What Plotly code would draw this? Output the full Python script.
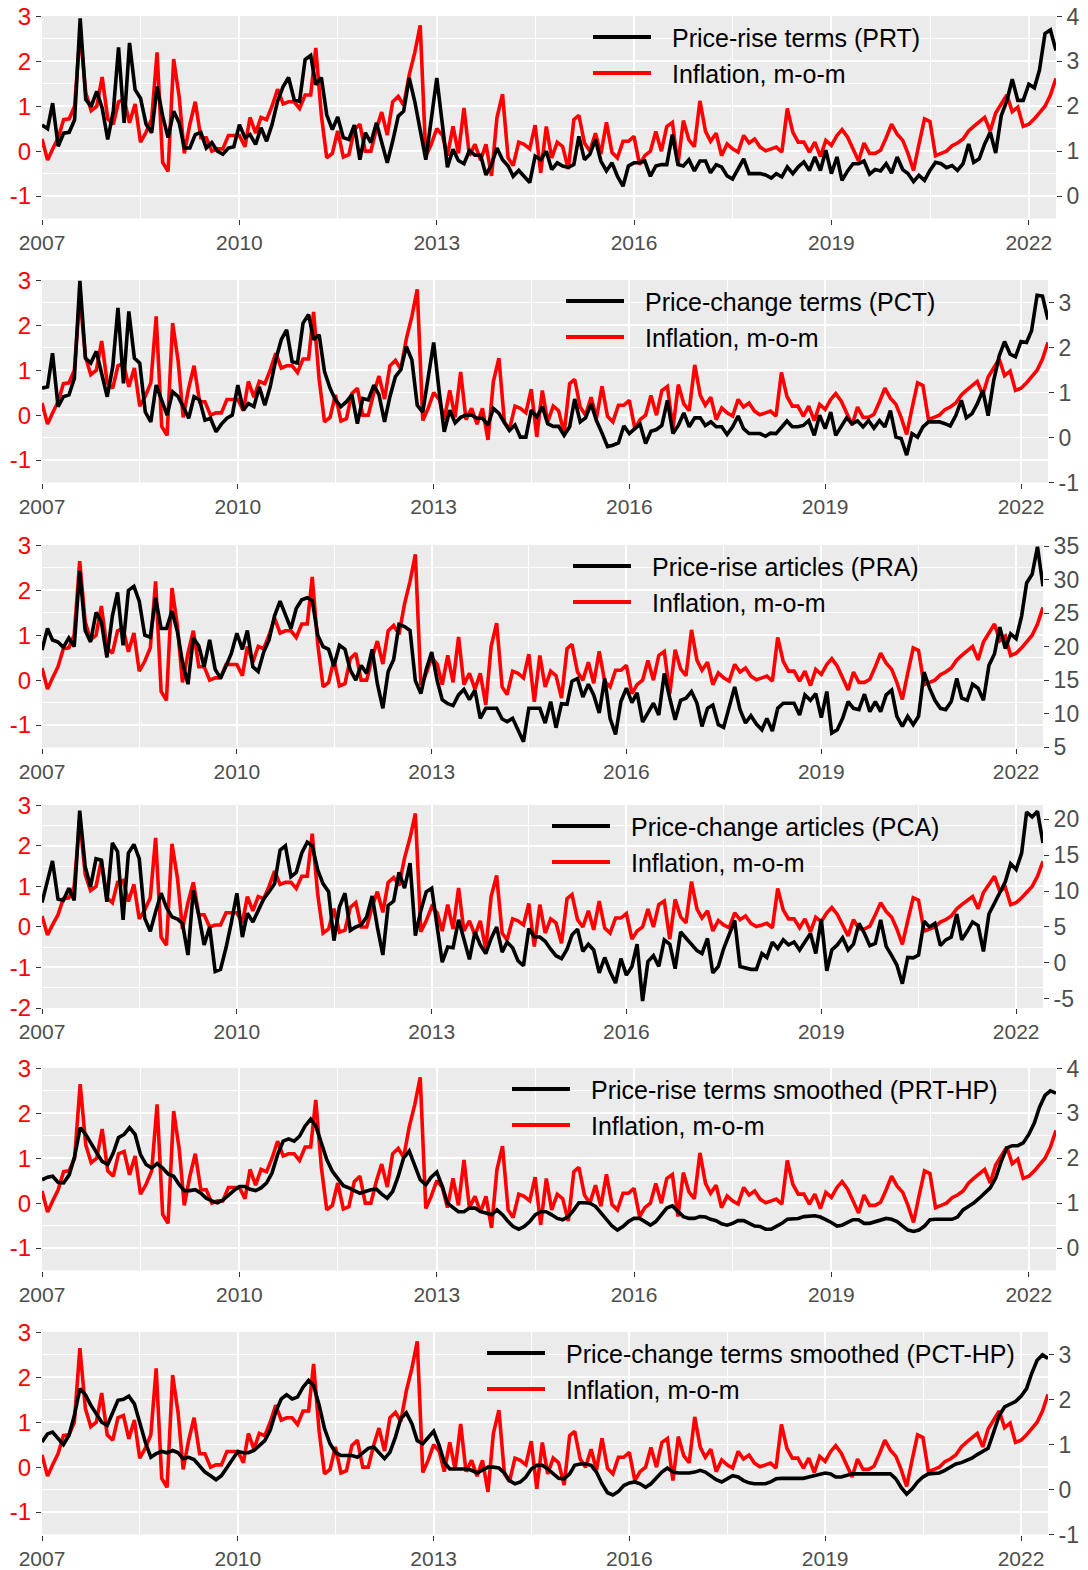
import pandas as pd
import plotly.graph_objects as go

# ---------------- data (monthly, Jan 2007 - Jun 2022) ----------------
dates = pd.date_range("2007-01-01", periods=186, freq="MS")

inflation = [
    0.27, -0.2, 0.05, 0.3, 0.7, 0.72, 1.0, 2.65, 1.3, 0.9,
    1.0, 1.65, 0.72, 0.6, 1.1, 1.15, 0.63, 1.05, 0.2, 0.42,
    0.72, 2.2, -0.25, -0.45, 2.05, 1.2, -0.05, 0.6, 1.1, 0.3,
    0.3, 0.0, 0.05, 0.05, 0.35, 0.35, 0.35, 0.1, 0.75, 0.4,
    0.75, 0.7, 1.0, 1.38, 1.05, 1.1, 1.1, 0.95, 1.25, 1.25,
    2.3, 0.8, -0.15, -0.05, 0.45, -0.13, -0.08, 0.48, 0.6, 0.0,
    0.0, 0.5, 0.87, 0.36, 1.1, 1.22, 1.02, 1.7, 2.2, 2.8,
    -0.12, 0.15, 0.5, 0.35, -0.1, 0.55, -0.05, 0.96, -0.1, 0.15,
    -0.2, 0.15, -0.55, 0.75, 1.27, -0.15, -0.32, 0.2, 0.15, 0.05,
    0.58, -0.48, 0.55, -0.15, 0.2, 0.1, -0.4, 0.7, 0.8, 0.18,
    0.0, 0.4, -0.07, 0.64, -0.03, -0.15, 0.22, 0.22, 0.33, -0.3,
    -0.1, 0.0, 0.44, 0.0, 0.55, 0.64, -0.3, 0.68, 0.25, 0.1,
    1.12, 0.44, 0.22, 0.4, -0.1, 0.16, 0.05, -0.02, 0.35, 0.18,
    0.27, 0.09, 0.01, 0.05, 0.09, -0.02, 0.95, 0.42, 0.2, 0.2,
    -0.02, 0.2, -0.12, 0.24, 0.13, 0.35, 0.48, 0.31, 0.05, -0.22,
    0.18, -0.05, -0.05, 0.02, 0.3, 0.6, 0.38, 0.24, -0.05, -0.43,
    0.15, 0.72, 0.66, -0.1, -0.05, 0.0, 0.12, 0.18, 0.27, 0.45,
    0.55, 0.65, 0.75, 0.45, 0.85, 1.05, 1.25, 0.88, 0.98, 0.55,
    0.6, 0.72, 0.85, 1.0, 1.25, 1.62,
]

prt = [
    1.58, 1.5, 2.07, 1.11, 1.4, 1.42, 1.7, 3.96, 2.15, 2.0,
    2.33, 1.96, 1.26, 1.89, 3.31, 1.63, 3.41, 2.37, 2.18, 1.6,
    1.41, 2.44, 1.78, 1.3, 1.89, 1.63, 1.07, 1.07, 1.37, 1.42,
    1.07, 1.19, 1.0, 0.93, 1.07, 1.1, 1.59, 1.3, 1.37, 1.15,
    1.52, 1.22, 1.59, 2.11, 2.44, 2.64, 2.15, 2.11, 3.04, 3.13,
    2.48, 2.64, 1.81, 1.48, 1.76, 1.3, 1.26, 1.58, 0.81, 1.41,
    1.19, 1.63, 1.2, 0.74, 1.22, 1.78, 1.89, 2.63, 2.1, 1.5,
    0.81, 1.7, 2.63, 1.6, 0.64, 1.04, 0.79, 0.72, 1.01, 0.91,
    0.91, 0.47, 0.7, 1.07, 0.81, 0.67, 0.44, 0.57, 0.44, 0.3,
    0.89, 0.81, 1.0, 0.59, 0.74, 0.67, 0.64, 0.7, 1.33, 0.81,
    0.93, 1.26, 0.78, 0.56, 0.74, 0.44, 0.22, 0.67, 0.74, 0.74,
    0.78, 0.44, 0.67, 0.7, 0.7, 1.37, 0.7, 0.67, 0.81, 0.56,
    0.78, 0.78, 0.52, 0.7, 0.65, 0.45, 0.38, 0.61, 0.83, 0.5,
    0.5, 0.5, 0.47, 0.4, 0.5, 0.43, 0.65, 0.5, 0.65, 0.76,
    0.57, 0.87, 0.57, 1.02, 0.5, 0.87, 0.35, 0.56, 0.72, 0.72,
    0.78, 0.49, 0.59, 0.56, 0.72, 0.51, 0.87, 0.59, 0.5, 0.32,
    0.46, 0.35, 0.57, 0.75, 0.72, 0.63, 0.68, 0.57, 0.72, 1.16,
    0.75, 0.83, 1.16, 1.42, 0.96, 1.79, 2.12, 2.6, 2.13, 2.13,
    2.49, 2.41, 2.8, 3.62, 3.7, 3.24,
]

pct = [
    1.1, 1.13, 1.88, 0.69, 0.91, 0.95, 1.32, 3.49, 1.77, 1.66,
    1.92, 1.43, 0.91, 1.58, 2.89, 1.21, 2.81, 1.77, 1.66, 0.57,
    0.35, 1.17, 0.84, 0.5, 1.02, 0.91, 0.69, 0.43, 0.91, 0.84,
    0.39, 0.43, 0.13, 0.3, 0.43, 0.5, 1.17, 0.61, 0.76, 0.69,
    1.13, 0.72, 1.13, 1.73, 2.18, 2.4, 1.69, 1.66, 2.55, 2.74,
    2.18, 2.29, 1.47, 1.1, 0.84, 0.69, 0.8, 0.95, 0.31, 0.87,
    0.84, 1.17, 0.95, 0.35, 0.91, 1.36, 1.51, 2.03, 1.73, 0.72,
    0.57, 1.3, 2.12, 1.02, 0.13, 0.61, 0.33, 0.45, 0.5, 0.5,
    0.43, 0.43, 0.28, 0.65, 0.54, 0.33, 0.16, 0.28, 0.01, 0.01,
    0.61, 0.46, 0.69, 0.31, 0.25, 0.25, 0.05, 0.24, 0.86, 0.35,
    0.44, 0.75, 0.38, 0.1, -0.2, -0.17, -0.12, 0.26, 0.09, 0.2,
    0.3, -0.13, 0.14, 0.18, 0.27, 0.83, 0.09, 0.27, 0.55, 0.24,
    0.44, 0.44, 0.27, 0.35, 0.24, 0.24, 0.07, 0.24, 0.48, 0.2,
    0.09, 0.09, 0.09, 0.03, 0.1, 0.09, 0.24, 0.37, 0.24, 0.24,
    0.27, 0.38, 0.05, 0.5, 0.2, 0.57, 0.05, 0.26, 0.44, 0.31,
    0.37, 0.24, 0.38, 0.21, 0.38, 0.24, 0.6, 0.01, -0.02, -0.39,
    0.09, 0.01, 0.24, 0.35, 0.35, 0.35, 0.31, 0.26, 0.49, 0.83,
    0.44, 0.53, 0.75, 1.05, 0.49, 1.27, 1.82, 2.14, 1.86, 1.8,
    2.14, 2.12, 2.38, 3.17, 3.15, 2.63,
]

pra = [
    19.5, 22.7, 21.0, 20.7, 19.9, 21.3, 20.0, 31.3, 22.4, 20.7,
    25.1, 23.7, 18.4, 24.6, 28.1, 20.2, 28.4, 29.0, 26.8, 21.7,
    21.4, 27.3, 22.7, 22.7, 25.3, 22.2, 17.7, 14.4, 21.3, 20.1,
    17.0, 21.0, 16.6, 15.3, 17.1, 19.0, 22.0, 19.6, 22.4, 17.0,
    16.3, 19.2, 21.0, 24.6, 26.8, 24.8, 22.7, 25.7, 27.0, 27.3,
    26.9, 21.7, 20.0, 19.6, 17.1, 20.2, 19.6, 16.5, 15.0, 17.2,
    16.0, 19.6, 14.5, 10.8, 16.3, 18.1, 23.3, 23.0, 22.4, 14.9,
    13.0, 16.6, 19.2, 14.9, 12.1, 11.5, 11.2, 12.8, 13.6, 12.1,
    13.5, 9.3, 10.8, 10.8, 10.8, 9.2, 8.8, 9.3, 7.6, 5.8,
    10.8, 10.8, 10.8, 8.6, 11.8, 7.9, 11.5, 11.4, 14.85, 15.25,
    12.5, 14.4, 12.8, 10.1, 15.25, 9.3, 6.9, 11.8, 13.8, 11.65,
    13.1, 8.75, 10.1, 11.55, 9.8, 16.0, 12.3, 9.1, 12.0, 12.3,
    13.3, 11.55, 8.1, 10.8, 11.3, 8.35, 7.95, 10.9, 14.0, 10.6,
    8.6, 9.7, 8.45, 7.6, 9.3, 7.4, 10.8, 11.55, 11.55, 11.55,
    9.8, 12.8, 12.0, 13.0, 9.4, 13.3, 7.1, 7.6, 9.3, 11.8,
    10.8, 10.6, 12.9, 10.3, 11.8, 10.3, 12.8, 13.5, 9.6, 8.1,
    9.6, 8.35, 9.6, 16.2, 13.8, 12.0, 10.8, 10.6, 11.8, 15.25,
    12.3, 12.0, 14.4, 13.8, 12.0, 17.2, 18.9, 22.9, 19.7, 21.9,
    21.2, 24.6, 29.5, 30.8, 34.9, 29.0,
]

pca = [
    8.4, 11.2, 14.2, 8.9, 8.7, 10.4, 8.7, 21.2, 13.4, 10.6,
    14.5, 14.3, 8.5, 16.7, 15.5, 6.0, 15.3, 16.5, 14.5, 6.2,
    4.4, 7.1, 9.7, 7.7, 6.4, 6.1, 5.5, 1.1, 10.1, 6.6,
    2.5, 5.0, -1.2, -0.9, 2.1, 5.6, 9.7, 3.6, 6.9, 5.7,
    7.3, 8.9, 9.9, 11.0, 15.7, 16.3, 12.0, 12.6, 15.3, 16.8,
    16.3, 12.9, 11.0, 9.9, 3.1, 7.8, 9.7, 4.5, 5.0, 5.3,
    6.4, 9.3, 5.0, 1.1, 8.0, 8.6, 12.6, 10.4, 13.9, 3.8,
    7.3, 9.9, 10.4, 5.0, 0.1, 2.2, 2.1, 6.0, 3.1, 0.5,
    4.3, 2.5, 1.3, 3.4, 5.0, 1.5, 2.9, 2.1, 0.3, -0.4,
    4.8, 3.6, 3.6, 3.0, 1.9, 1.0, 0.6, 1.9, 3.9, 4.7,
    1.6, 2.6, 1.8, -1.4, 0.75, -1.2, -2.8, 0.6, -1.7, -0.5,
    2.6, -5.3, 0.2, 1.0, -0.5, 3.2, 2.6, -0.8, 4.3, 3.4,
    2.5, 1.7, 1.3, 3.4, -1.4, -0.5, 2.0, 4.0, 5.9, -0.5,
    -0.7, -0.9, -0.9, 1.3, 0.75, 2.9, 2.0, 3.2, 2.5, 2.9,
    1.8, 2.9, 4.1, 1.3, 6.1, -1.1, 1.8, 2.5, 3.5, 1.8,
    2.6, 5.5, 4.1, 2.4, 2.7, 6.0, 2.3, 1.0, -0.3, -2.9,
    0.75, 0.7, 1.1, 5.8, 5.0, 5.5, 2.4, 3.2, 3.6, 6.8,
    3.2, 4.4, 5.7, 5.2, 1.6, 6.8, 8.4, 9.8, 11.3, 13.8,
    13.0, 15.3, 21.0, 20.3, 21.1, 16.7,
]

prt_hp = [
    1.52, 1.58, 1.6, 1.46, 1.45, 1.63, 2.04, 2.68, 2.53, 2.31,
    2.12, 1.93, 1.86, 2.12, 2.46, 2.53, 2.68, 2.53, 2.08, 1.86,
    1.78, 1.88, 1.78, 1.65, 1.6, 1.41, 1.28, 1.28, 1.3, 1.22,
    1.11, 1.05, 1.01, 1.07, 1.19, 1.28, 1.37, 1.37, 1.31, 1.28,
    1.34, 1.45, 1.67, 2.08, 2.38, 2.43, 2.38, 2.49, 2.72, 2.87,
    2.72, 2.34, 1.97, 1.71, 1.56, 1.39, 1.34, 1.28, 1.22, 1.26,
    1.3, 1.31, 1.2, 1.11, 1.26, 1.6, 2.01, 2.16, 1.86, 1.52,
    1.41, 1.58, 1.69, 1.37, 1.0, 0.89, 0.81, 0.81, 0.89, 0.89,
    0.81, 0.78, 0.74, 0.85, 0.74, 0.59, 0.48, 0.42, 0.48, 0.59,
    0.74, 0.81, 0.81, 0.74, 0.66, 0.63, 0.7, 0.85, 1.01, 1.01,
    1.0, 0.93, 0.78, 0.63, 0.49, 0.4, 0.48, 0.59, 0.66, 0.66,
    0.59, 0.51, 0.59, 0.74, 0.89, 0.94, 0.81, 0.7, 0.66, 0.66,
    0.7, 0.69, 0.64, 0.61, 0.54, 0.51, 0.55, 0.61, 0.61, 0.55,
    0.49, 0.48, 0.42, 0.42, 0.48, 0.55, 0.64, 0.64, 0.66, 0.7,
    0.72, 0.72, 0.69, 0.64, 0.57, 0.49, 0.51, 0.57, 0.63, 0.63,
    0.55, 0.55, 0.59, 0.63, 0.66, 0.64, 0.59, 0.49, 0.4, 0.37,
    0.4, 0.49, 0.63, 0.64, 0.64, 0.64, 0.64, 0.69, 0.85, 0.93,
    1.0, 1.11, 1.22, 1.34, 1.56, 1.93, 2.23, 2.28, 2.28, 2.34,
    2.53, 2.79, 3.13, 3.4, 3.5, 3.45,
]

pct_hp = [
    1.06, 1.24, 1.28, 1.13, 1.0, 1.21, 1.65, 2.25, 2.11, 1.88,
    1.67, 1.5, 1.43, 1.73, 1.99, 2.01, 2.08, 1.91, 1.5, 1.06,
    0.72, 0.8, 0.85, 0.82, 0.87, 0.82, 0.69, 0.72, 0.67, 0.52,
    0.39, 0.31, 0.22, 0.31, 0.5, 0.69, 0.85, 0.82, 0.82, 0.87,
    0.98, 1.09, 1.32, 1.73, 2.02, 2.11, 2.02, 2.06, 2.28, 2.43,
    2.32, 1.88, 1.36, 1.02, 0.83, 0.76, 0.76, 0.76, 0.72, 0.82,
    0.92, 0.95, 0.83, 0.69, 0.83, 1.17, 1.58, 1.71, 1.47, 1.09,
    1.02, 1.17, 1.3, 0.98, 0.61, 0.46, 0.45, 0.46, 0.46, 0.43,
    0.37, 0.43, 0.5, 0.5, 0.48, 0.37, 0.2, 0.13, 0.17, 0.28,
    0.46, 0.54, 0.54, 0.46, 0.35, 0.25, 0.24, 0.35, 0.54, 0.57,
    0.57, 0.54, 0.39, 0.13, -0.07, -0.12, -0.04, 0.09, 0.15, 0.17,
    0.13, 0.05, 0.13, 0.25, 0.39, 0.48, 0.39, 0.37, 0.37, 0.37,
    0.39, 0.43, 0.39, 0.31, 0.22, 0.17, 0.24, 0.31, 0.28, 0.2,
    0.15, 0.13, 0.13, 0.13, 0.17, 0.24, 0.25, 0.25, 0.25, 0.25,
    0.25, 0.28, 0.31, 0.35, 0.37, 0.35, 0.28, 0.28, 0.31, 0.35,
    0.35, 0.35, 0.35, 0.35, 0.35, 0.37, 0.35, 0.24, 0.05, -0.1,
    0.01, 0.17, 0.28, 0.35, 0.37, 0.37, 0.43, 0.5, 0.57, 0.6,
    0.65, 0.7, 0.78, 0.85, 0.92, 1.28, 1.65, 1.84, 1.91, 1.96,
    2.08, 2.25, 2.58, 2.88, 3.0, 2.92,
]

year_ticks = ["2007", "2010", "2013", "2016", "2019", "2022"]
inflation_name = "Inflation, m-o-m"

# ---------------- layout config ----------------
W, H = 1088, 1570
FONT = "Liberation Sans, Arial, Helvetica, sans-serif"

panels = [
    dict(name="Price-rise terms (PRT)", y=prt,
         lrange=[-1.5, 3.01], lticks=[-1, 0, 1, 2, 3], lminor=[-1.5, -0.5, 0.5, 1.5, 2.5],
         rrange=[-0.5, 4.01], rticks=[0, 1, 2, 3, 4],
         box=(42, 1056, 16, 218.5), legx=593),
    dict(name="Price-change terms (PCT)", y=pct,
         lrange=[-1.5, 3.01], lticks=[-1, 0, 1, 2, 3], lminor=[-1.5, -0.5, 0.5, 1.5, 2.5],
         rrange=[-1.0, 3.51], rticks=[-1, 0, 1, 2, 3],
         box=(42, 1048, 280, 482.5), legx=566),
    dict(name="Price-rise articles (PRA)", y=pra,
         lrange=[-1.5, 3.01], lticks=[-1, 0, 1, 2, 3], lminor=[-1.5, -0.5, 0.5, 1.5, 2.5],
         rrange=[4.95, 35.17], rticks=[5, 10, 15, 20, 25, 30, 35],
         box=(42, 1043, 545, 747.5), legx=573),
    dict(name="Price-change articles (PCA)", y=pca,
         lrange=[-2.0, 3.01], lticks=[-2, -1, 0, 1, 2, 3], lminor=[-1.5, -0.5, 0.5, 1.5, 2.5],
         rrange=[-6.28, 21.98], rticks=[-5, 0, 5, 10, 15, 20],
         box=(42, 1043, 805, 1008), legx=552),
    dict(name="Price-rise terms smoothed (PRT-HP)", y=prt_hp,
         lrange=[-1.5, 3.01], lticks=[-1, 0, 1, 2, 3], lminor=[-1.5, -0.5, 0.5, 1.5, 2.5],
         rrange=[-0.5, 4.01], rticks=[0, 1, 2, 3, 4],
         box=(42, 1056, 1068, 1270.5), legx=512),
    dict(name="Price-change terms smoothed (PCT-HP)", y=pct_hp,
         lrange=[-1.5, 3.01], lticks=[-1, 0, 1, 2, 3], lminor=[-1.5, -0.5, 0.5, 1.5, 2.5],
         rrange=[-1.0, 3.51], rticks=[-1, 0, 1, 2, 3],
         box=(42, 1048, 1332, 1534.5), legx=487),
]

major_dates = [f"{y}-01-01" for y in year_ticks]
minor_dates = ["2008-07-02", "2011-07-02", "2014-07-02", "2017-07-02", "2020-07-02"]

LINE_W = 3.6
fig = go.Figure()
layout = dict(
    width=W, height=H,
    margin=dict(l=0, r=0, t=0, b=0, autoexpand=False),
    paper_bgcolor="white",
    plot_bgcolor="#EBEBEB",
    showlegend=False,
    font=dict(family=FONT),
)
shapes = []
annotations = []

for i, p in enumerate(panels):
    k = i + 1
    xa = "x" if k == 1 else f"x{k}"
    yl_n = 2 * i + 1
    yr_n = 2 * i + 2
    yl = "y" if yl_n == 1 else f"y{yl_n}"
    yr = f"y{yr_n}"
    x0, x1, top, bot = p["box"]

    fig.add_trace(go.Scatter(x=dates, y=inflation, mode="lines", name=inflation_name,
                             line=dict(color="#FF0000", width=LINE_W), xaxis=xa, yaxis=yl,
                             hoverinfo="skip"))
    fig.add_trace(go.Scatter(x=dates, y=p["y"], mode="lines", name=p["name"],
                             line=dict(color="#000000", width=LINE_W), xaxis=xa, yaxis=yr,
                             hoverinfo="skip"))

    xkey = "xaxis" if k == 1 else f"xaxis{k}"
    layout[xkey] = dict(
        domain=[x0 / W, x1 / W], anchor=yl, type="date", automargin=False,
        range=[dates[0], dates[-1]],
        tickmode="array", tickvals=major_dates, ticktext=year_ticks,
        ticks="outside", ticklen=5, tickwidth=1.1, tickcolor="#333333",
        tickfont=dict(size=21, color="#4D4D4D", family=FONT),
        showgrid=True, gridcolor="white", gridwidth=2.1,
        minor=dict(tickmode="array", tickvals=minor_dates, showgrid=True,
                   gridcolor="white", gridwidth=1.2, ticks=""),
        showline=False, zeroline=False, fixedrange=True,
    )
    ylkey = "yaxis" if yl_n == 1 else f"yaxis{yl_n}"
    layout[ylkey] = dict(
        domain=[1 - bot / H, 1 - top / H], anchor=xa, automargin=False,
        range=p["lrange"], tickmode="array", tickvals=p["lticks"],
        ticktext=[str(v) for v in p["lticks"]],
        ticks="outside", ticklen=5, tickwidth=1.1, tickcolor="#333333",
        tickfont=dict(size=24, color="#FF0000", family=FONT),
        showgrid=True, gridcolor="white", gridwidth=2.1,
        minor=dict(tickmode="array", tickvals=p["lminor"], showgrid=True,
                   gridcolor="white", gridwidth=1.2, ticks=""),
        showline=False, zeroline=False, fixedrange=True,
    )
    layout[f"yaxis{yr_n}"] = dict(
        domain=[1 - bot / H, 1 - top / H], anchor=xa, overlaying=yl, side="right",
        automargin=False,
        range=p["rrange"], tickmode="array", tickvals=p["rticks"],
        ticktext=[str(v) for v in p["rticks"]],
        ticks="outside", ticklen=5, tickwidth=1.1, tickcolor="#333333",
        tickfont=dict(size=23, color="#4D4D4D", family=FONT),
        showgrid=False, showline=False, zeroline=False, fixedrange=True,
    )

    # legend (drawn inside the panel, transparent background)
    lx = p["legx"]
    for row, (label, color) in enumerate([(p["name"], "#000000"), (inflation_name, "#FF0000")]):
        yc = top + 21 + 36 * row
        shapes.append(dict(type="line", xref="paper", yref="paper",
                           x0=lx / W, x1=(lx + 58) / W, y0=1 - yc / H, y1=1 - yc / H,
                           line=dict(color=color, width=4)))
        annotations.append(dict(xref="paper", yref="paper", x=(lx + 77) / W,
                                y=1 - (yc + 1) / H,
                                xanchor="left", yanchor="middle", showarrow=False,
                                text=label, font=dict(size=25, color="#000000", family=FONT)))

layout["shapes"] = shapes
layout["annotations"] = annotations
fig.update_layout(**layout)

fig.write_html(
    "out.html",
    config={"displayModeBar": False},
    post_script="document.body.style.margin='0';document.body.style.padding='0';"
                "document.body.style.overflow='hidden';",
)
